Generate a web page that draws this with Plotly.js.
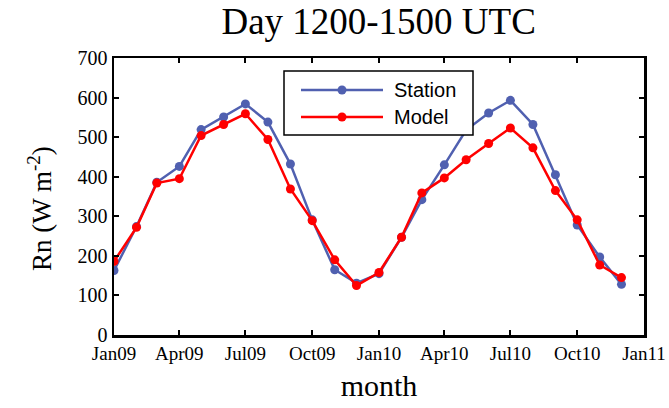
<!DOCTYPE html>
<html><head><meta charset="utf-8">
<script src="https://cdn.plot.ly/plotly-3.0.1.min.js"></script>
<style>body{margin:0;padding:0;background:#fff}#chart{width:669px;height:408px}</style>
</head><body><div id="chart"></div>
<script>
var months = ["2009-01-01","2009-02-01","2009-03-01","2009-04-01","2009-05-01","2009-06-01","2009-07-01","2009-08-01","2009-09-01","2009-10-01","2009-11-01","2009-12-01",
              "2010-01-01","2010-02-01","2010-03-01","2010-04-01","2010-05-01","2010-06-01","2010-07-01","2010-08-01","2010-09-01","2010-10-01","2010-11-01","2010-12-01"];
var station = [163,274,386,426,519,551,584,538,432,291,165,131,155,247,342,430,518,561,593,532,405,278,197,128];
var model   = [186,272,384,395,504,532,559,494,369,289,190,125,158,247,359,397,443,484,523,473,365,291,177,145];
var tickDates = ["2009-01-01","2009-04-01","2009-07-01","2009-10-01","2010-01-01","2010-04-01","2010-07-01","2010-10-01","2011-01-01"];
var tickLabels = ["Jan09","Apr09","Jul09","Oct09","Jan10","Apr10","Jul10","Oct10","Jan11"];
var yTicks = [0,100,200,300,400,500,600,700];
var seriesNames = ["Station","Model"];
var seriesColors = ["#5060b0","#ff0000"];

var W = 669, H = 408, M = {l: 114, r: 25, t: 58, b: 73};
var pw = W - M.l - M.r, ph = H - M.t - M.b;
function px(x) { return (x - M.l) / pw; }
function py(y) { return (H - M.b - y) / ph; }

var serif = "Liberation Serif, Times New Roman, serif";
var traces = [
  {x: months, y: station, name: seriesNames[0], type: "scatter", mode: "lines+markers", showlegend: false,
   line: {color: seriesColors[0], width: 2.5}, marker: {color: seriesColors[0], size: 9, symbol: "circle"}},
  {x: months, y: model, name: seriesNames[1], type: "scatter", mode: "lines+markers", showlegend: false,
   line: {color: seriesColors[1], width: 2.5}, marker: {color: seriesColors[1], size: 9, symbol: "circle"}}
];

// custom legend (box, sample lines, markers, labels)
var shapes = [
  {type: "rect", xref: "paper", yref: "paper", x0: px(284), x1: px(473), y0: py(135), y1: py(71),
   line: {color: "#000", width: 1.5}, fillcolor: "#fff", layer: "above"}
];
var annotations = [];
var rowY = [90, 117];
for (var i = 0; i < seriesNames.length; i++) {
  shapes.push({type: "line", xref: "paper", yref: "paper", x0: px(301), x1: px(383), y0: py(rowY[i]), y1: py(rowY[i]),
               line: {color: seriesColors[i], width: 2.5}, layer: "above"});
  shapes.push({type: "circle", xref: "paper", yref: "paper", xsizemode: "pixel", ysizemode: "pixel",
               xanchor: px(342), yanchor: py(rowY[i]), x0: -4.5, x1: 4.5, y0: -4.5, y1: 4.5,
               fillcolor: seriesColors[i], line: {color: seriesColors[i], width: 0}, layer: "above"});
  annotations.push({xref: "paper", yref: "paper", x: px(392), y: py(rowY[i]), xanchor: "left", yanchor: "middle",
                    text: seriesNames[i], showarrow: false,
                    font: {family: "Liberation Sans, Arial, sans-serif", size: 20, color: "#000"}});
}
// y-axis title placed as in the reference
annotations.push({xref: "paper", yref: "paper", x: px(40), y: py(209), xanchor: "center", yanchor: "middle",
                  textangle: -90, showarrow: false, text: "Rn (W m<sup>-2</sup>)",
                  font: {family: serif, size: 27, color: "#000"}});

var layout = {
  width: W, height: H,
  margin: M,
  paper_bgcolor: "#fff", plot_bgcolor: "#fff",
  showlegend: false,
  title: {text: "Day 1200-1500 UTC", font: {family: serif, size: 37, color: "#000"}, x: 0.566, xanchor: "center", y: 0.98, yanchor: "top"},
  xaxis: {type: "date", range: ["2009-01-01","2011-01-01"], tickmode: "array", tickvals: tickDates, ticktext: tickLabels,
          ticks: "inside", ticklen: 5, tickwidth: 2, tickcolor: "#000", showgrid: false, zeroline: false,
          showline: true, linewidth: 2.5, linecolor: "#000", mirror: "ticks",
          tickfont: {family: serif, size: 19, color: "#000"},
          title: {text: "month", font: {family: serif, size: 30, color: "#000"}, standoff: 12}},
  yaxis: {range: [0,700], tickmode: "array", tickvals: yTicks,
          ticks: "inside", ticklen: 5, tickwidth: 2, tickcolor: "#000", showgrid: false, zeroline: false,
          showline: true, linewidth: 2.5, linecolor: "#000", mirror: "ticks",
          tickfont: {family: serif, size: 20, color: "#000"}},
  shapes: shapes,
  annotations: annotations
};
Plotly.newPlot("chart", traces, layout, {displayModeBar: false, staticPlot: true});
</script></body></html>
